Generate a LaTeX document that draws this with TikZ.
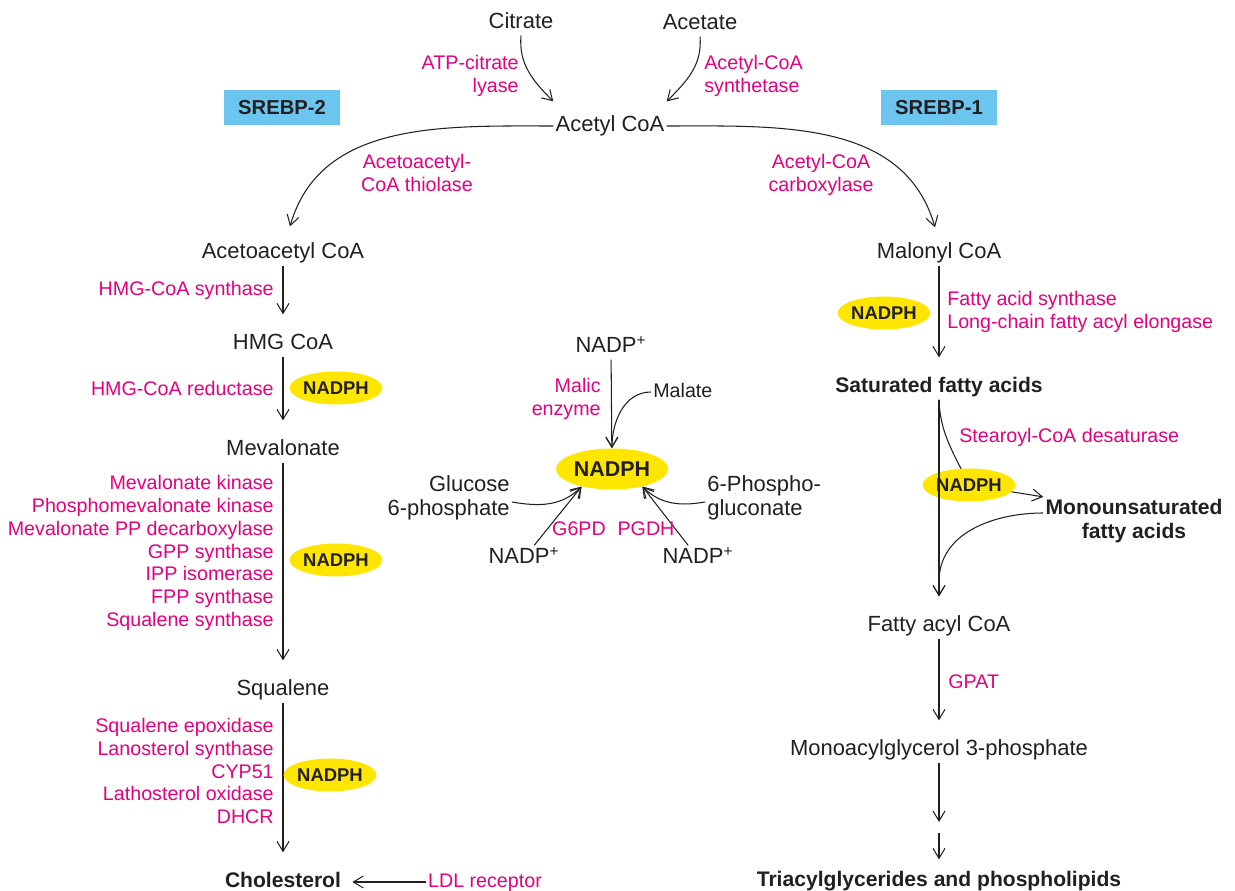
\documentclass[tikz,border=0pt]{standalone}
\usepackage{fontspec}
\setmainfont{Liberation Sans}
\usetikzlibrary{arrows.meta}
\usetikzlibrary{shapes.geometric}
\usetikzlibrary{backgrounds}
\definecolor{txt}{HTML}{231F20}
\definecolor{enzpink}{HTML}{E5007D}
\definecolor{nadphyellow}{HTML}{FFE600}
\definecolor{srebpblue}{HTML}{6CC5EE}

\begin{document}
\begin{tikzpicture}[x=0.02cm,y=-0.02cm,
	met/.style={text=txt,font=\fontsize{12.5}{14}\selectfont,text height=0.32cm,text depth=0.09cm,inner sep=0.04cm},
	bmet/.style={met,font=\bfseries\fontsize{12}{14}\selectfont},
	mmet/.style={text=txt,font=\fontsize{12.5}{13.6}\selectfont,inner sep=0.04cm},
	enz/.style={text=enzpink,font=\fontsize{11.2}{12.94}\selectfont,inner sep=0.04cm},
	nadph/.style={ellipse,fill=nadphyellow,text=txt,minimum width=1.76cm,minimum height=0.66cm,inner sep=0pt,font=\bfseries\fontsize{10.5}{12}\selectfont},
	bignadph/.style={nadph,minimum width=2.24cm,minimum height=0.82cm,font=\bfseries\fontsize{12.2}{14}\selectfont},
	srebp/.style={fill=srebpblue,text=txt,minimum width=2.32cm,minimum height=0.7cm,inner sep=0pt,font=\bfseries\fontsize{11.5}{13}\selectfont},
	cx/.style={draw=txt,line width=0.6pt,-{Straight Barb[length=0.2cm,width=0.24cm]}},
	rx/.style={cx,shorten >=0.34cm}]

	\useasboundingbox (0,0) rectangle (1235,891);

	\node[srebp] (srebp2) at (282,108) {SREBP-2};
	\node[srebp] (srebp1) at (939,108) {SREBP-1};

	\node[met] (cit) at (521,23) {Citrate};
	\node[met] (act) at (700,24) {Acetate};
	\node[enz,align=right,anchor=east] (acl) at (521,76) {ATP-citrate\\lyase};
	\node[enz,align=left,anchor=west] (acs) at (702,76) {Acetyl-CoA\\synthetase};
	\node[met] (acoa) at (610,126) {Acetyl CoA};
	\node[enz,align=center] (thl) at (417,173) {Acetoacetyl-\\CoA thiolase};
	\node[enz,align=center] (acc) at (821,175) {Acetyl-CoA\\carboxylase};

	\node[met] (aca) at (283,253) {Acetoacetyl CoA};
	\node[enz,anchor=east] (hmgs) at (276,290) {HMG-CoA synthase};
	\node[met] (hmg) at (283,344) {HMG CoA};
	\node[enz,anchor=east] (hmgr) at (276,388) {HMG-CoA reductase};
	\node[nadph] (nadph1) at (336,388) {NADPH};
	\node[met] (mev) at (283,450) {Mevalonate};
	\node[enz,align=right,anchor=east] (mevenz) at (276,553) {Mevalonate kinase\\Phosphomevalonate kinase\\Mevalonate PP decarboxylase\\GPP synthase\\IPP isomerase\\FPP synthase\\Squalene synthase};
	\node[nadph] (nadph2) at (336,560) {NADPH};
	\node[met] (sq) at (283,690) {Squalene};
	\node[enz,align=right,anchor=east] (sqenz) at (276,771) {Squalene epoxidase\\Lanosterol synthase\\CYP51\\Lathosterol oxidase\\DHCR};
	\node[nadph] (nadph3) at (330,775) {NADPH};
	\node[bmet] (chol) at (283,882) {Cholesterol};
	\node[met,text=enzpink,font=\fontsize{11.2}{13}\selectfont] (ldl) at (485,882) {LDL receptor};

	\node[met] (nadpt) at (611,347) {NADP\textsuperscript{+}};
	\node[enz,align=right,anchor=east] (me) at (603,399) {Malic\\enzyme};
	\node[met,font=\fontsize{11.2}{13}\selectfont,anchor=west] (malate) at (651,392) {Malate};
	\node[bignadph] (nadphc) at (612,469) {NADPH};
	\node[mmet,align=right,anchor=east] (glc) at (512,498) {Glucose\\6-phosphate};
	\node[mmet,align=left,anchor=west] (pg) at (705,498) {6-Phospho-\\gluconate};
	\node[enz] (g6pd) at (579,529) {G6PD};
	\node[enz] (pgdh) at (646,529) {PGDH};
	\node[met] (nadpl) at (524,558) {NADP\textsuperscript{+}};
	\node[met] (nadpr) at (698,558) {NADP\textsuperscript{+}};

	\node[met] (mal) at (939,253) {Malonyl CoA};
	\node[nadph] (nadph4) at (884,313) {NADPH};
	\node[enz,align=left,anchor=west] (fas) at (945,312) {Fatty acid synthase\\Long-chain fatty acyl elongase};
	\node[bmet] (sfa) at (939,387) {Saturated fatty acids};
	\node[enz,anchor=west] (scd) at (957,437) {Stearoyl-CoA desaturase};
	\node[nadph] (nadph5) at (969,485) {NADPH};
	\node[mmet,font=\bfseries\fontsize{12}{13.6}\selectfont,align=center] (mufa) at (1134,521) {Monounsaturated\\fatty acids};
	\node[met] (fac) at (939,626) {Fatty acyl CoA};
	\node[enz,anchor=west] (gpat) at (946,682) {GPAT};
	\node[met] (mag) at (939,750) {Monoacylglycerol 3-phosphate};
	\coordinate (gap) at (939,828);
	\node[bmet] (tag) at (939,881) {Triacylglycerides and phospholipids};

	\draw[rx] (sfa) -- (fac);

	\begin{scope}[on background layer]
		\draw[cx] (cit.south) to[out=-95,in=135] ([yshift=0.24cm]acoa.north west);
		\draw[cx] (act.south) to[out=-85,in=45] ([yshift=0.24cm]acoa.north east);
		\draw[cx] (acoa.west) to[out=180,in=74] ([xshift=0.14cm,yshift=0.28cm]aca.north);
		\draw[cx] (acoa.east) to[out=0,in=106] ([xshift=-0.08cm,yshift=0.26cm]mal.north);

		\draw[rx] (aca) -- (hmg);
		\draw[rx] (hmg) -- (mev);
		\draw[rx] (mev) -- (sq);
		\draw[rx] (sq) -- (chol);
		\draw[cx,shorten >=0.18cm] (ldl) -- (chol);

		\draw[cx] (nadpt) -- (nadphc);
		\draw[cx] (malate.west) to[out=180,in=90] (nadphc.north);
		\draw[cx] ([yshift=-0.08cm]glc.east) to[out=-10,in=225] (nadphc.210);
		\draw[cx] (nadpl) -- (nadphc.210);
		\draw[cx] ([yshift=-0.08cm]pg.west) to[out=190,in=-45] (nadphc.-30);
		\draw[cx] (nadpr) -- (nadphc.-30);

		\draw[rx] (mal) -- (sfa);
		\draw[cx] (sfa.south) to[out=-88,in=115] (nadph5.center) -- (mufa.north west);
		\draw[cx] ([yshift=0.16cm]mufa.west) to[out=180,in=90] ([yshift=0.64cm]fac.north) -- ([yshift=0.34cm]fac.north);
		\draw[rx] (fac) -- (mag);
		\draw[cx,shorten >=0.12cm] (mag) -- (gap);
		\draw[cx,shorten <=0.1cm,shorten >=0.18cm] (gap) -- (tag);
	\end{scope}
\end{tikzpicture}
\end{document}
